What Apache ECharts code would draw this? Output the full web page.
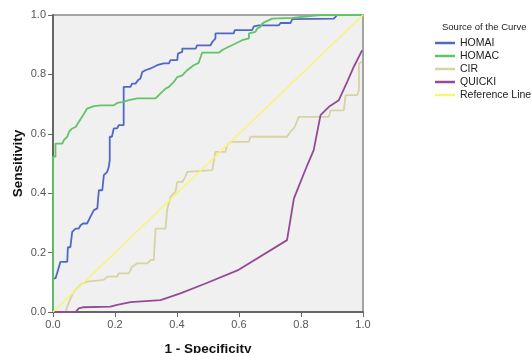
<!DOCTYPE html>
<html>
<head>
<meta charset="utf-8">
<script src="https://cdn.jsdelivr.net/npm/echarts@6/dist/echarts.min.js"></script>
<style>
  html, body { margin: 0; padding: 0; background: #fff; }
  #chart { width: 532px; height: 353px; }
</style>
</head>
<body>
<div id="chart"></div>
<script>
// ROC curves, points are [1 - specificity, sensitivity]
const curveNames = ["HOMAI", "HOMAC", "CIR", "QUICKI", "Reference Line"];
const axisTicks = [0, 0.2, 0.4, 0.6, 0.8, 1.0];

const homaI = [
  [0, 0], [0, 0.113], [0.008, 0.113], [0.013, 0.13], [0.018, 0.13], [0.024, 0.169],
  [0.046, 0.169], [0.048, 0.218], [0.056, 0.218], [0.062, 0.27], [0.073, 0.281],
  [0.083, 0.281], [0.089, 0.292], [0.097, 0.298], [0.11, 0.298], [0.121, 0.321],
  [0.126, 0.321], [0.132, 0.343], [0.143, 0.349], [0.148, 0.41], [0.159, 0.41],
  [0.164, 0.461], [0.175, 0.472], [0.18, 0.489], [0.183, 0.511], [0.183, 0.59],
  [0.19, 0.59], [0.196, 0.618], [0.207, 0.618], [0.212, 0.629], [0.228, 0.629],
  [0.228, 0.758], [0.25, 0.758], [0.255, 0.769], [0.266, 0.769], [0.274, 0.78],
  [0.282, 0.786], [0.288, 0.808], [0.298, 0.814], [0.315, 0.82], [0.336, 0.831],
  [0.357, 0.837], [0.374, 0.837], [0.379, 0.848], [0.401, 0.848], [0.403, 0.87],
  [0.417, 0.876], [0.417, 0.887], [0.46, 0.887], [0.465, 0.898], [0.508, 0.898],
  [0.514, 0.909], [0.524, 0.921], [0.524, 0.938], [0.583, 0.938], [0.586, 0.949],
  [0.642, 0.949], [0.648, 0.962], [0.664, 0.965], [0.728, 0.965], [0.734, 0.973],
  [0.766, 0.973], [0.772, 0.986], [0.906, 0.988], [0.917, 1], [1, 1]
];

const homaC = [
  [0, 0], [0, 0.523], [0.008, 0.523], [0.008, 0.567], [0.03, 0.567], [0.035, 0.579],
  [0.046, 0.59], [0.052, 0.607], [0.062, 0.618], [0.073, 0.623], [0.083, 0.64],
  [0.094, 0.657], [0.11, 0.685], [0.132, 0.693], [0.153, 0.696], [0.196, 0.696],
  [0.207, 0.704], [0.223, 0.707], [0.245, 0.713], [0.272, 0.719], [0.331, 0.719],
  [0.347, 0.736], [0.363, 0.752], [0.374, 0.758], [0.39, 0.775], [0.401, 0.791],
  [0.417, 0.797], [0.433, 0.814], [0.454, 0.831], [0.47, 0.839], [0.481, 0.873],
  [0.535, 0.873], [0.546, 0.882], [0.567, 0.893], [0.589, 0.904], [0.61, 0.915],
  [0.632, 0.921], [0.632, 0.938], [0.653, 0.943], [0.659, 0.955], [0.669, 0.96],
  [0.675, 0.971], [0.685, 0.977], [0.707, 0.988], [0.772, 0.99], [0.863, 1], [1, 1]
];

const cir = [
  [0, 0], [0.04, 0], [0.046, 0.018], [0.052, 0.035], [0.062, 0.057], [0.067, 0.068],
  [0.083, 0.085], [0.094, 0.096], [0.11, 0.102], [0.164, 0.108], [0.175, 0.119],
  [0.207, 0.119], [0.212, 0.13], [0.245, 0.13], [0.255, 0.152], [0.272, 0.164],
  [0.304, 0.164], [0.315, 0.175], [0.325, 0.175], [0.331, 0.281], [0.363, 0.281],
  [0.368, 0.343], [0.379, 0.388], [0.395, 0.405], [0.401, 0.438], [0.417, 0.438],
  [0.427, 0.455], [0.433, 0.472], [0.438, 0.478], [0.514, 0.478], [0.519, 0.511],
  [0.524, 0.539], [0.556, 0.539], [0.562, 0.562], [0.573, 0.573], [0.632, 0.573],
  [0.637, 0.59], [0.755, 0.59], [0.766, 0.607], [0.777, 0.618], [0.782, 0.629],
  [0.793, 0.657], [0.89, 0.657], [0.895, 0.679], [0.938, 0.679], [0.944, 0.73],
  [0.981, 0.73], [0.987, 0.747], [0.987, 0.837], [0.997, 0.843]
];

const quicki = [
  [0, 0], [0.073, 0], [0.083, 0.012], [0.099, 0.016], [0.185, 0.018], [0.207, 0.024],
  [0.25, 0.033], [0.347, 0.04], [0.411, 0.063], [0.492, 0.096], [0.599, 0.142],
  [0.755, 0.242], [0.777, 0.382], [0.82, 0.494], [0.841, 0.545], [0.863, 0.663],
  [0.89, 0.691], [0.922, 0.713], [0.949, 0.775], [0.97, 0.825], [0.997, 0.881]
];

const referenceLine = [[0, 0], [1, 1]];

const curveData = [homaI, homaC, cir, quicki, referenceLine];
const curveColors = ["#5068c4", "#62c466", "#d8d3a2", "#944a95", "#f8f574"];

const font = "'Liberation Sans', Arial, sans-serif";

const myChart = echarts.init(document.getElementById("chart"), null, { renderer: "canvas" });

const axisCommon = {
  type: "value",
  min: axisTicks[0],
  max: axisTicks[axisTicks.length - 1],
  interval: 0.2,
  splitLine: { show: false },
  axisLine: { show: true, lineStyle: { color: "#666", width: 2 } },
  axisTick: { show: true, length: 5, lineStyle: { color: "#666", width: 1 } },
  axisLabel: {
    color: "#555",
    fontSize: 11,
    fontFamily: font,
    margin: 7,
    formatter: (v) => v.toFixed(1),
  },
  nameTextStyle: { color: "#111", fontSize: 13.5, fontWeight: "bold", fontFamily: font },
  nameLocation: "middle",
  nameMoveOverlap: false,
};

const option = {
  animation: false,
  backgroundColor: "#fff",
  title: {
    text: "Source of the Curve",
    left: 442,
    top: 22,
    padding: 0,
    textStyle: { fontSize: 9.5, fontWeight: "normal", color: "#222", fontFamily: font },
  },
  legend: {
    orient: "vertical",
    left: 435,
    top: 37,
    padding: 0,
    itemGap: 1,
    itemWidth: 20,
    itemHeight: 2.5,
    icon: "rect",
    data: curveNames,
    textStyle: { fontSize: 10.5, lineHeight: 12, color: "#222", fontFamily: font },
  },
  grid: {
    left: 53,
    top: 15,
    width: 310,
    height: 297,
    outerBoundsMode: "none",
    show: true,
    backgroundColor: "#f0f0f0",
    borderColor: "#888",
    borderWidth: 1.5,
  },
  xAxis: { ...axisCommon, name: "1 - Specificity", nameGap: 30 },
  yAxis: { ...axisCommon, name: "Sensitivity", nameGap: 28, nameRotate: 90 },
  series: curveNames.map((name, i) => ({
    name: name,
    type: "line",
    showSymbol: false,
    symbol: "none",
    data: curveData[i],
    lineStyle: { color: curveColors[i], width: i === 4 ? 1.5 : 1.8 },
    itemStyle: { color: curveColors[i] },
  })),
};

option && myChart.setOption(option);
</script>
</body>
</html>
